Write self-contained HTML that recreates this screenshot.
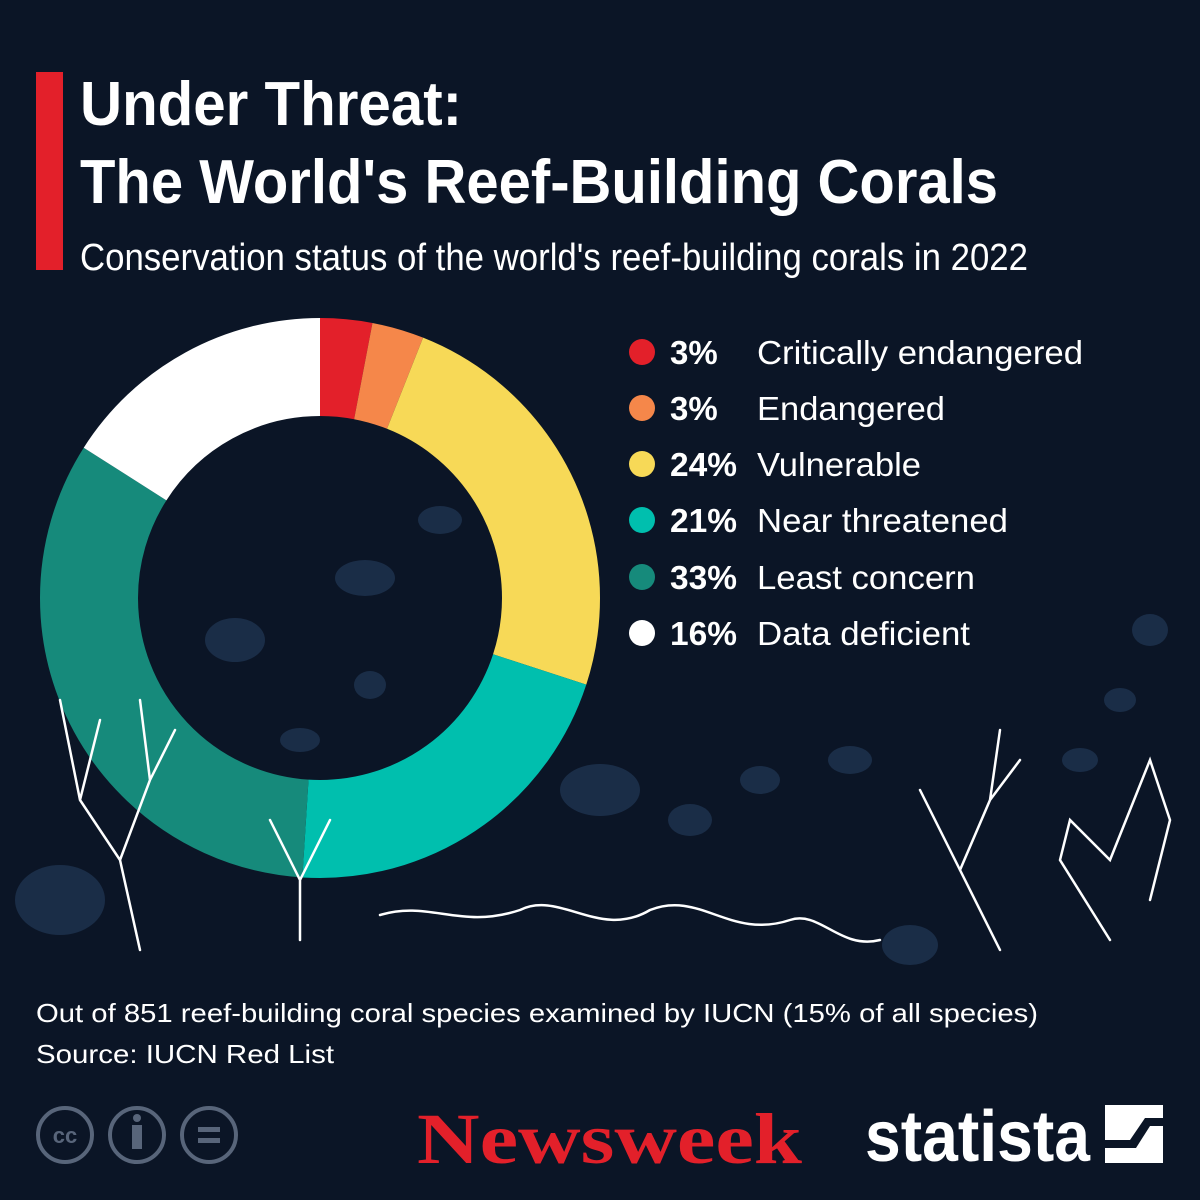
<!DOCTYPE html>
<html><head><meta charset="utf-8"><style>
html,body{margin:0;padding:0;background:#0b1526;}
svg{display:block}
text{font-family:"Liberation Sans",sans-serif;fill:#fff}
</style></head><body>
<svg width="1200" height="1200" viewBox="0 0 1200 1200" xmlns="http://www.w3.org/2000/svg">
<rect width="1200" height="1200" fill="#0b1526"/>
<!-- faint fish silhouettes -->
<g fill="#1e3350" opacity="0.8">
<ellipse cx="440" cy="520" rx="22" ry="14"/><ellipse cx="365" cy="578" rx="30" ry="18"/>
<ellipse cx="235" cy="640" rx="30" ry="22"/><ellipse cx="370" cy="685" rx="16" ry="14"/>
<ellipse cx="300" cy="740" rx="20" ry="12"/><ellipse cx="600" cy="790" rx="40" ry="26"/>
<ellipse cx="690" cy="820" rx="22" ry="16"/><ellipse cx="760" cy="780" rx="20" ry="14"/>
<ellipse cx="850" cy="760" rx="22" ry="14"/><ellipse cx="1150" cy="630" rx="18" ry="16"/>
<ellipse cx="1120" cy="700" rx="16" ry="12"/><ellipse cx="1080" cy="760" rx="18" ry="12"/>
<ellipse cx="60" cy="900" rx="45" ry="35"/><ellipse cx="910" cy="945" rx="28" ry="20"/>
</g>
<!-- title -->
<rect x="36" y="72" width="27" height="198" fill="#e3202a"/>
<text x="80" y="125" font-size="62" font-weight="bold" textLength="382" lengthAdjust="spacingAndGlyphs">Under Threat:</text>
<text x="80" y="203" font-size="62" font-weight="bold" textLength="918" lengthAdjust="spacingAndGlyphs">The World's Reef-Building Corals</text>
<text x="80" y="270" font-size="38" textLength="948" lengthAdjust="spacingAndGlyphs">Conservation status of the world's reef-building corals in 2022</text>
<!-- donut -->
<g transform="rotate(-90 320 598)" fill="none" stroke-width="98">
<circle cx="320" cy="598" r="231" stroke="#e3202a" stroke-dasharray="43.54 1451.42" stroke-dashoffset="0"/>
<circle cx="320" cy="598" r="231" stroke="#f5874a" stroke-dasharray="43.54 1451.42" stroke-dashoffset="-43.54"/>
<circle cx="320" cy="598" r="231" stroke="#f7d957" stroke-dasharray="348.34 1451.42" stroke-dashoffset="-87.09"/>
<circle cx="320" cy="598" r="231" stroke="#00bfae" stroke-dasharray="304.80 1451.42" stroke-dashoffset="-435.43"/>
<circle cx="320" cy="598" r="231" stroke="#168a7b" stroke-dasharray="478.97 1451.42" stroke-dashoffset="-740.22"/>
<circle cx="320" cy="598" r="231" stroke="#ffffff" stroke-dasharray="232.23 1451.42" stroke-dashoffset="-1219.19"/>
</g>
<!-- simple coral outlines -->
<g fill="none" stroke="#fff" stroke-width="2.5" stroke-linecap="round">
<path d="M140 950 L120 860 L80 800 L60 700 M120 860 L150 780 L140 700 M80 800 L100 720 M150 780 L175 730"/>
<path d="M380 915 C430 900 460 930 520 910 C560 890 600 940 650 910 C700 890 730 940 790 920 C820 910 840 950 880 940"/>
<path d="M1000 950 L960 870 L920 790 M960 870 L990 800 L1000 730 M990 800 L1020 760"/>
<path d="M1110 940 L1060 860 L1070 820 L1110 860 L1150 760 L1170 820 L1150 900"/>
<path d="M270 820 L300 880 L330 820 M300 880 L300 940"/>
</g>
<!-- legend -->
<g font-size="33">
<circle cx="642" cy="352" r="13" fill="#e3202a"/><text x="670" y="364" font-weight="bold">3%</text><text x="757" y="364" textLength="326" lengthAdjust="spacingAndGlyphs">Critically endangered</text>
<circle cx="642" cy="408" r="13" fill="#f5874a"/><text x="670" y="420" font-weight="bold">3%</text><text x="757" y="420" textLength="188" lengthAdjust="spacingAndGlyphs">Endangered</text>
<circle cx="642" cy="464" r="13" fill="#f7d957"/><text x="670" y="476" font-weight="bold" textLength="67" lengthAdjust="spacingAndGlyphs">24%</text><text x="757" y="476" textLength="164" lengthAdjust="spacingAndGlyphs">Vulnerable</text>
<circle cx="642" cy="520" r="13" fill="#00bfae"/><text x="670" y="532" font-weight="bold" textLength="67" lengthAdjust="spacingAndGlyphs">21%</text><text x="757" y="532" textLength="251" lengthAdjust="spacingAndGlyphs">Near threatened</text>
<circle cx="642" cy="577" r="13" fill="#168a7b"/><text x="670" y="589" font-weight="bold" textLength="67" lengthAdjust="spacingAndGlyphs">33%</text><text x="757" y="589" textLength="218" lengthAdjust="spacingAndGlyphs">Least concern</text>
<circle cx="642" cy="633" r="13" fill="#ffffff"/><text x="670" y="645" font-weight="bold" textLength="67" lengthAdjust="spacingAndGlyphs">16%</text><text x="757" y="645" textLength="213" lengthAdjust="spacingAndGlyphs">Data deficient</text>
</g>
<!-- footer -->
<text x="36" y="1022" font-size="26" textLength="1002" lengthAdjust="spacingAndGlyphs">Out of 851 reef-building coral species examined by IUCN (15% of all species)</text>
<text x="36" y="1063" font-size="26" textLength="298" lengthAdjust="spacingAndGlyphs">Source: IUCN Red List</text>
<!-- cc icons -->
<g fill="none" stroke="#58657a" stroke-width="4">
<circle cx="65" cy="1135" r="27"/><circle cx="137" cy="1135" r="27"/><circle cx="209" cy="1135" r="27"/>
</g>
<text x="65" y="1143" font-size="22" font-weight="bold" text-anchor="middle" style="fill:#58657a">cc</text>
<circle cx="137" cy="1118" r="4" fill="#58657a"/><rect x="132" y="1125" width="10" height="24" fill="#58657a"/>
<rect x="198" y="1127" width="22" height="5" fill="#58657a"/><rect x="198" y="1138" width="22" height="5" fill="#58657a"/>
<!-- logos -->
<text x="417" y="1163" font-size="72" font-weight="bold" textLength="385" lengthAdjust="spacingAndGlyphs" style="font-family:'Liberation Serif',serif;fill:#e3202a">Newsweek</text>
<text x="865" y="1161" font-size="72" font-weight="bold" textLength="225" lengthAdjust="spacingAndGlyphs">statista</text>
<rect x="1105" y="1105" width="58" height="58" fill="#fff"/>
<path d="M1105 1140 L1130 1140 L1145 1118 L1163 1118 L1163 1126 L1150 1126 L1136 1148 L1105 1148 Z" fill="#0b1526"/>
</svg>
</body></html>
